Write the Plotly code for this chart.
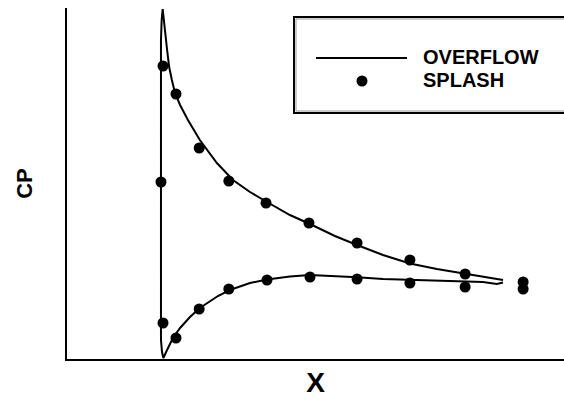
import plotly.graph_objects as go

# OVERFLOW pressure distribution (x/c, Cp), one continuous loop:
# upper surface TE -> LE suction peak, down the leading edge, lower surface LE -> TE
upper_x = [1.000, 0.947, 0.889, 0.806, 0.727, 0.648, 0.572, 0.507, 0.434, 0.375,
           0.308, 0.258, 0.208, 0.161, 0.111, 0.076, 0.053, 0.038, 0.029, 0.021,
           0.015, 0.009, 0.002]
upper_cp = [0.000, -0.030, -0.065, -0.110, -0.165, -0.250, -0.350, -0.440, -0.560, -0.650,
            -0.780, -0.880, -1.000, -1.170, -1.400, -1.600, -1.750, -1.870, -2.000, -2.130,
            -2.300, -2.470, -2.710]
nose_x = [-0.001, -0.003, -0.003, -0.003, 0.000, 0.004]
nose_cp = [-2.60, -2.40, -1.00, 0.60, 0.72, 0.78]
lower_x = [0.012, 0.021, 0.032, 0.053, 0.082, 0.111, 0.132, 0.164, 0.199, 0.258,
           0.308, 0.375, 0.434, 0.507, 0.572, 0.648, 0.727, 0.806, 0.889, 0.941,
           0.982, 1.000]
lower_cp = [0.720, 0.650, 0.580, 0.480, 0.370, 0.280, 0.230, 0.160, 0.100, 0.030,
            -0.005, -0.035, -0.050, -0.040, -0.027, -0.010, 0.000, 0.010, 0.015, 0.020,
            0.040, 0.025]

# SPLASH results
splash_upper_x = [0.003, 0.041, 0.109, 0.196, 0.305, 0.431, 0.572, 0.727, 0.889, 1.059]
splash_upper_cp = [-2.14, -1.86, -1.32, -0.99, -0.77, -0.57, -0.37, -0.20, -0.06, 0.02]
splash_le_x = [-0.003]
splash_le_cp = [-0.98]
splash_lower_x = [0.003, 0.041, 0.109, 0.196, 0.308, 0.434, 0.572, 0.727, 0.889, 1.059]
splash_lower_cp = [0.43, 0.58, 0.29, 0.09, 0.00, -0.03, -0.01, 0.03, 0.07, 0.09]

legend_labels = ["OVERFLOW", "SPLASH"]
x_title = "X"
y_title = "CP"

W, H = 564, 400
ML, MR, MT, MB = 67, 0, 8, 41
PW, PH = W - ML - MR, H - MT - MB


def px_x(p):
    return (p - ML) / PW


def px_y(p):
    return (H - MB - p) / PH


fig = go.Figure()
fig.add_trace(go.Scatter(
    x=upper_x + nose_x + lower_x,
    y=upper_cp + nose_cp + lower_cp,
    mode="lines", name=legend_labels[0],
    line=dict(color="black", width=2),
    showlegend=False,
))
fig.add_trace(go.Scatter(
    x=splash_upper_x + splash_le_x + splash_lower_x,
    y=splash_upper_cp + splash_le_cp + splash_lower_cp,
    mode="markers", name=legend_labels[1],
    marker=dict(color="black", size=11, line=dict(width=0)),
    showlegend=False,
))

font_family = "Liberation Sans, Arial, sans-serif"

# boxed key in the upper right corner
shapes = [
    dict(type="rect", xref="paper", yref="paper",
         x0=px_x(294), x1=px_x(570), y0=px_y(113), y1=px_y(17),
         line=dict(color="black", width=2), fillcolor="white", layer="above"),
    dict(type="rect", xref="paper", yref="paper",
         x0=px_x(296), x1=px_x(570), y0=px_y(111), y1=px_y(19),
         line=dict(color="#9a9a9a", width=1), layer="above"),
    dict(type="line", xref="paper", yref="paper",
         x0=px_x(316), x1=px_x(407), y0=px_y(58), y1=px_y(58),
         line=dict(color="black", width=2), layer="above"),
    dict(type="circle", xref="paper", yref="paper",
         x0=px_x(356.5), x1=px_x(367.5), y0=px_y(86.5), y1=px_y(75.5),
         line=dict(color="black", width=0), fillcolor="black", layer="above"),
]
annotations = [
    dict(text=f"<b>{legend_labels[0]}</b>", xref="paper", yref="paper",
         x=px_x(421), y=px_y(57), xanchor="left", yanchor="middle", showarrow=False,
         font=dict(family=font_family, size=20, color="black")),
    dict(text=f"<b>{legend_labels[1]}</b>", xref="paper", yref="paper",
         x=px_x(421), y=px_y(80), xanchor="left", yanchor="middle", showarrow=False,
         font=dict(family=font_family, size=20, color="black")),
]

fig.update_layout(
    width=W, height=H,
    margin=dict(l=ML, r=MR, t=MT, b=MB, pad=0),
    paper_bgcolor="white", plot_bgcolor="white",
    shapes=shapes, annotations=annotations,
    showlegend=False,
    xaxis=dict(
        range=[(ML - 162) / 341, (W - 162) / 341],
        showgrid=False, zeroline=False, showticklabels=False, ticks="",
        showline=True, linecolor="black", linewidth=2,
        title=dict(text=f"<b>{x_title}</b>", standoff=12,
                   font=dict(family=font_family, size=28, color="black")),
    ),
    yaxis=dict(
        range=[0.79, -2.72],
        showgrid=False, zeroline=False, showticklabels=False, ticks="",
        showline=True, linecolor="black", linewidth=2,
        title=dict(text=f"<b>{y_title}</b>", standoff=26,
                   font=dict(family=font_family, size=22, color="black")),
    ),
)

fig.write_html("out.html")
